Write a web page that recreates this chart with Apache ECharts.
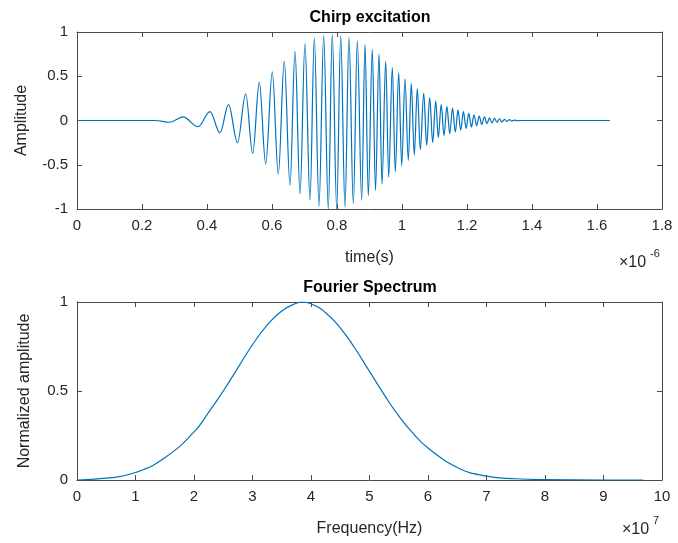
<!DOCTYPE html>
<html>
<head>
<meta charset="utf-8">
<script src="https://cdn.jsdelivr.net/npm/echarts@6/dist/echarts.min.js"></script>
<style>html,body{margin:0;padding:0;background:#fff;}#c{width:678px;height:543px;}</style>
</head>
<body>
<div id="c"></div>
<script>
const chirpTime = [0, 0.12, 0.24, 0.2862, 0.3262, 0.3723, 0.4092, 0.4400, 0.4662, 0.4938, 0.5191, 0.5406, 0.5609, 0.5806, 0.6009, 0.6194, 0.6378, 0.6554, 0.6708, 0.6862, 0.7015, 0.7169, 0.7302, 0.7446, 0.7591, 0.7732, 0.7855, 0.7991, 0.8114, 0.8246, 0.8369, 0.8502, 0.8625, 0.8760, 0.8862, 0.8963, 0.9086, 0.9185, 0.9292, 0.9385, 0.9498, 0.9591, 0.9702, 0.9794, 0.9898, 0.9991, 1.0092, 1.0194, 1.0286, 1.0378, 1.0471, 1.0563, 1.0668, 1.0760, 1.0852, 1.0945, 1.1037, 1.1117, 1.1206, 1.1292, 1.1382, 1.1468, 1.1554, 1.1640, 1.1723, 1.1806, 1.1889, 1.1972, 1.2055, 1.2135, 1.2215, 1.2295, 1.2375, 1.2455, 1.2535, 1.2615, 1.2692, 1.2769, 1.2846, 1.2923, 1.3000, 1.3077, 1.3154, 1.3231, 1.3308, 1.3385, 1.3462, 1.3538, 1.3662, 1.64];
const chirpAmp = [0, 0, 0, -0.02, 0.04, -0.07, 0.10, -0.14, 0.18, -0.25, 0.30, -0.37, 0.43, -0.49, 0.55, -0.61, 0.67, -0.73, 0.78, -0.83, 0.87, -0.90, 0.93, -0.97, 0.96, -1.0, 0.97, -1.0, 0.96, -0.98, 0.94, -0.94, 0.90, -0.90, 0.86, -0.85, 0.80, -0.79, 0.75, -0.72, 0.67, -0.64, 0.60, -0.58, 0.54, -0.51, 0.47, -0.45, 0.42, -0.39, 0.36, -0.33, 0.31, -0.28, 0.26, -0.25, 0.22, -0.19, 0.18, -0.17, 0.16, -0.15, 0.14, -0.13, 0.12, -0.11, 0.10, -0.09, 0.08, -0.075, 0.065, -0.06, 0.05, -0.045, 0.04, -0.035, 0.03, -0.028, 0.025, -0.022, 0.02, -0.017, 0.014, -0.011, 0.009, -0.007, 0.005, -0.003, 0, 0];

// ---- Fourier spectrum (frequency in units of 1e7 Hz) ----
const specFreq = [0, 0.5, 1, 1.5, 2, 2.25, 2.5, 2.75, 3, 3.25, 3.5, 3.75, 3.85, 4, 4.25, 4.5, 4.75, 5, 5.25, 5.5, 5.75, 6, 6.5, 7, 7.5, 8, 9, 9.68];
const specAmp  = [0, 0.01, 0.042, 0.125, 0.27, 0.38, 0.50, 0.63, 0.76, 0.87, 0.95, 0.993, 1.0, 0.99, 0.94, 0.855, 0.74, 0.61, 0.48, 0.36, 0.26, 0.18, 0.07, 0.022, 0.007, 0.002, 0, 0];

// ---- Axis ticks ----
const timeTicks = {min: 0, max: 1.8, interval: 0.2};
const ampTicks = {min: -1, max: 1, interval: 0.5};
const freqTicks = {min: 0, max: 10, interval: 1};
const normTicks = {min: 0, max: 1, interval: 0.5};

const chirpData = chirpTime.map((t, i) => [t, chirpAmp[i]]);
const specData = specFreq.map((f, i) => [f, specAmp[i]]);

const FONT = 'Liberation Sans, Arial, Helvetica, sans-serif';
const AX = '#262626';
const LINE = '#0072BD';

function xAx(grid, ticks, pos, show, name) {
  return {
    type: 'value', gridIndex: grid, position: pos,
    min: ticks.min, max: ticks.max, interval: ticks.interval,
    name: name || '', nameLocation: 'middle', nameGap: 41,
    nameTextStyle: {color: AX, fontSize: 16, fontFamily: FONT},
    axisLine: {show: true, onZero: false, lineStyle: {color: '#4a4a4a', width: 1}},
    axisTick: {show: true, inside: true, length: 5, lineStyle: {color: '#4a4a4a', width: 1}},
    axisLabel: {show: show, margin: 9, color: AX, fontSize: 15, fontFamily: FONT},
    splitLine: {show: false}
  };
}
function yAx(grid, ticks, pos, show, name, gap) {
  return {
    type: 'value', gridIndex: grid, position: pos,
    min: ticks.min, max: ticks.max, interval: ticks.interval,
    name: name || '', nameLocation: 'middle', nameGap: gap || 40,
    nameTextStyle: {color: AX, fontSize: 16, fontFamily: FONT},
    axisLine: {show: true, onZero: false, lineStyle: {color: '#4a4a4a', width: 1}},
    axisTick: {show: true, inside: true, length: 5, lineStyle: {color: '#4a4a4a', width: 1}},
    axisLabel: {show: show, margin: 9, color: AX, fontSize: 15, fontFamily: FONT},
    splitLine: {show: false}
  };
}

const chart = echarts.init(document.getElementById('c'), null, {renderer: 'canvas'});
chart.setOption({
  backgroundColor: '#ffffff',
  animation: false,
  grid: [
    {left: 77, right: 16, top: 32, height: 177},
    {left: 77, right: 16, top: 302, height: 178}
  ],
  xAxis: [
    xAx(0, timeTicks, 'bottom', true, 'time(s)'),
    xAx(0, timeTicks, 'top', false),
    xAx(1, freqTicks, 'bottom', true, 'Frequency(Hz)'),
    xAx(1, freqTicks, 'top', false)
  ],
  yAxis: [
    yAx(0, ampTicks, 'left', true, 'Amplitude', 47),
    yAx(0, ampTicks, 'right', false),
    yAx(1, normTicks, 'left', true, 'Normalized amplitude', 44),
    yAx(1, normTicks, 'right', false)
  ],
  graphic: [
    {type: 'text', x: 370, y: 18, style: {text: 'Chirp excitation', font: 'bold 16px ' + FONT, fill: '#000', textAlign: 'center', textVerticalAlign: 'middle'}},
    {type: 'text', x: 370, y: 288, style: {text: 'Fourier Spectrum', font: 'bold 16px ' + FONT, fill: '#000', textAlign: 'center', textVerticalAlign: 'middle'}},
    {type: 'text', x: 619, y: 263, style: {text: '\u00d710', font: '16px ' + FONT, fill: AX, textVerticalAlign: 'middle'}},
    {type: 'text', x: 650, y: 254, style: {text: '-6', font: '11px ' + FONT, fill: AX, textVerticalAlign: 'middle'}},
    {type: 'text', x: 622, y: 530, style: {text: '\u00d710', font: '16px ' + FONT, fill: AX, textVerticalAlign: 'middle'}},
    {type: 'text', x: 653, y: 521, style: {text: '7', font: '11px ' + FONT, fill: AX, textVerticalAlign: 'middle'}}
  ],
  series: [
    {type: 'line', xAxisIndex: 0, yAxisIndex: 0, data: chirpData, showSymbol: false,
     smooth: 0.36, smoothMonotone: 'x', lineStyle: {color: LINE, width: 1.2}, silent: true},
    {type: 'line', xAxisIndex: 2, yAxisIndex: 2, data: specData, showSymbol: false,
     smooth: 0.5, lineStyle: {color: LINE, width: 1.2}, silent: true}
  ]
});
</script>
</body>
</html>
